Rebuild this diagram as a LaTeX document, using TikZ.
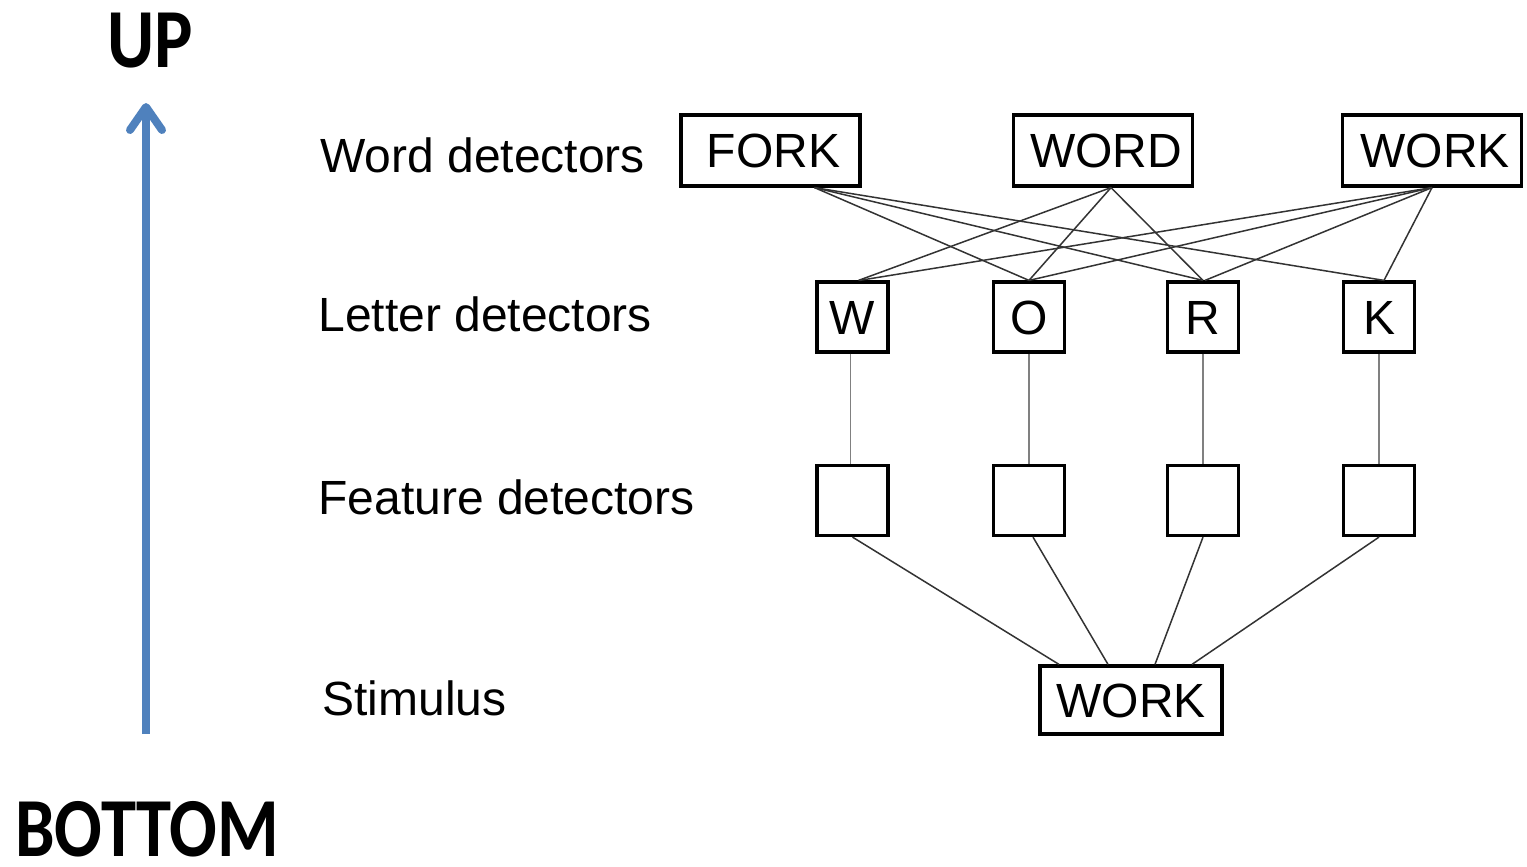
\documentclass[tikz,border=0pt]{standalone}
\usepackage{fontspec}
\setmainfont{Liberation Sans}
\newfontfamily\capfont{Carlito}
\usepackage{graphicx}
\definecolor{arrowblue}{HTML}{4F81BD}
\definecolor{linkgray}{HTML}{333333}
\begin{document}
\begin{tikzpicture}[x=0.5pt,y=-0.5pt,
  boxbase/.style={draw, line width=1.6pt, inner sep=0pt, text height=17.2pt, text depth=0pt,
    font=\fontsize{24}{28}\selectfont},
  wordbox/.style={boxbase, minimum width=89.5pt, minimum height=35.5pt},
  letterbox/.style={boxbase, minimum width=35.5pt, minimum height=35pt},
  featbox/.style={letterbox},
  stimbox/.style={boxbase, minimum width=91pt, minimum height=34pt},
  link/.style={draw=linkgray, line width=0.75pt},
  vlink/.style={draw=gray, line width=0.75pt},
  lbl/.style={anchor=base west, inner sep=0pt, font=\fontsize{24}{28}\selectfont},
  biglbl/.style={anchor=base west, inner sep=0pt, font=\fontsize{42}{48}\selectfont\capfont\bfseries},
  blue arrow/.style={draw=arrowblue, line width=4pt}
]
\useasboundingbox (0,0) rectangle (1527,867);

% big labels and arrow
\node[biglbl] (up) at (107,67) {\scalebox{0.86}[1]{UP}};
\node[biglbl] (bottom) at (15,856) {\scalebox{0.84}[1]{BOTTOM}};
\coordinate (abot) at (146,734);
\coordinate (atop) at (146,107);
\coordinate (aleft) at (130,130);
\coordinate (aright) at (162,130);
\draw[blue arrow] (abot) -- (atop);
\draw[blue arrow, line cap=round, line join=round] (aleft) -- (atop) -- (aright);

% row labels
\node[lbl] (lw) at (320,172) {Word detectors};
\node[lbl] (ll) at (318,331) {Letter detectors};
\node[lbl] (lf) at (318,514) {Feature detectors};
\node[lbl] (ls) at (322,715) {Stimulus};

% word detectors
\node[wordbox] (fork) at (770.5,150.5) {\hspace{3pt}FORK};
\node[wordbox] (word) at (1103,150.5) {\hspace{3pt}WORD};
\node[wordbox] (workw) at (1432,150.5) {\hspace{3pt}WORK};

% letter detectors
\node[letterbox] (w) at (852.5,317) {W};
\node[letterbox] (o) at (1029,317) {O};
\node[letterbox] (r) at (1203,317) {R};
\node[letterbox] (k) at (1379,317) {K};

% feature detectors
\node[featbox] (fw) at (852.5,500.5) {};
\node[featbox] (fo) at (1029,500.5) {};
\node[featbox] (fr) at (1203,500.5) {};
\node[featbox] (fk) at (1379,500.5) {};

% stimulus
\node[stimbox] (stim) at (1131,700) {WORK};

% word - letter links
\draw[link] ([xshift=22pt]fork.south) -- (o.north);
\draw[link] ([xshift=22pt]fork.south) -- (r.north);
\draw[link] ([xshift=22pt]fork.south) -- ([xshift=2.5pt]k.north);
\draw[link] ([xshift=4pt]word.south) -- ([xshift=3pt]w.north);
\draw[link] ([xshift=4pt]word.south) -- (o.north);
\draw[link] ([xshift=4pt]word.south) -- (r.north);
\draw[link] (workw.south) -- ([xshift=3.5pt]w.north);
\draw[link] (workw.south) -- (o.north);
\draw[link] (workw.south) -- ([xshift=1pt]r.north);
\draw[link] (workw.south) -- ([xshift=2.5pt]k.north);

% letter - feature links
\draw[vlink] ([xshift=-1pt]w.south) -- ([xshift=-1pt]fw.north);
\draw[vlink] (o.south) -- (fo.north);
\draw[vlink] (r.south) -- (fr.north);
\draw[vlink] (k.south) -- (fk.north);

% feature - stimulus links
\draw[link] (fw.south) -- ([xshift=-36pt]stim.north);
\draw[link] ([xshift=2pt]fo.south) -- ([xshift=-11.5pt]stim.north);
\draw[link] (fr.south) -- ([xshift=12pt]stim.north);
\draw[link] (fk.south) -- ([xshift=30.5pt]stim.north);
\end{tikzpicture}
\end{document}
